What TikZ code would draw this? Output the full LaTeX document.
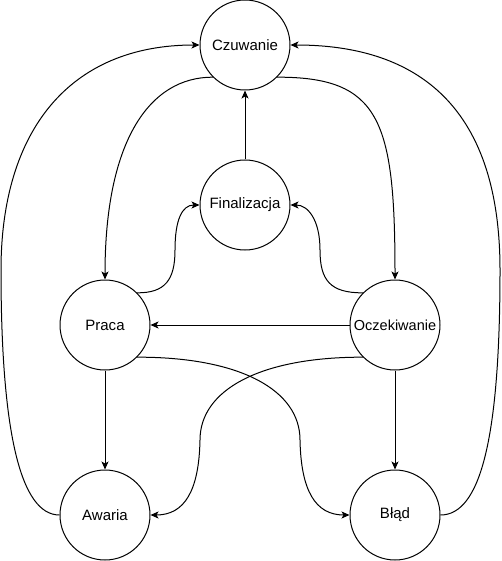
\documentclass[tikz,border=0pt]{standalone}
\usepackage{fontspec}
\setmainfont{Liberation Sans}
\usetikzlibrary{arrows.meta}
\begin{document}
\begin{tikzpicture}[x=1pt,y=-1pt,
  state/.style={circle,draw,line width=1pt,minimum size=90pt,inner sep=0pt,
    font=\fontsize{15}{17}\selectfont},
  edge/.style={line width=1pt,-{Stealth[length=8pt,width=7pt,inset=2pt]}}]
\useasboundingbox (0,0) rectangle (501,561);
\node[state] (czu) at (245,45) {Czuwanie};
\node[state] (fin) at (245,205) {Finalizacja};
\node[state] (pra) at (105,325) {Praca};
\node[state] (ocz) at (395,325) {\fontsize{14.5}{17}\selectfont Oczekiwanie};
\node[state] (awa) at (105,515) {Awaria};
\node[state] (bla) at (395,515) {Błąd};
\coordinate (lmid) at (1,270);
\coordinate (rmid) at (500,270);
\coordinate (pf) at (175,250);
\coordinate (of) at (320,250);
\coordinate (pb) at (300,440);
\coordinate (oa) at (200,440);
% straight connectors
\draw[edge] (fin.north) -- (czu.south);
\draw[edge] (ocz.west) -- (pra.east);
\draw[edge] (pra.south) -- (awa.north);
\draw[edge] (ocz.south) -- (bla.north);
% inner top curves
\draw[edge] (czu.-135) .. controls (150,77) and (105,140) .. (pra.north);
\draw[edge] (czu.-45) .. controls (380,77) and (395,120) .. (ocz.north);
% outer curves
\draw[edge] (awa.west) .. controls (20,515) and (1,430) .. (lmid)
  .. controls (1,130) and (70,45) .. (czu.west);
\draw[edge] (bla.east) .. controls (480,515) and (500,440) .. (rmid)
  .. controls (500,90) and (400,45) .. (czu.east);
% to Finalizacja
\draw[edge] (pra.45) .. controls (165,293) and (175,280) .. (pf)
  .. controls (175,220) and (182,205) .. (fin.west);
\draw[edge] (ocz.135) .. controls (330,293) and (320,280) .. (of)
  .. controls (320,220) and (308,205) .. (fin.east);
% crossing curves
\draw[edge] (pra.-45) .. controls (240,357) and (300,390) .. (pb)
  .. controls (301,490) and (315,515) .. (bla.west);
\draw[edge] (ocz.-135) .. controls (260,357) and (200,390) .. (oa)
  .. controls (199,490) and (185,515) .. (awa.east);
\end{tikzpicture}
\end{document}
